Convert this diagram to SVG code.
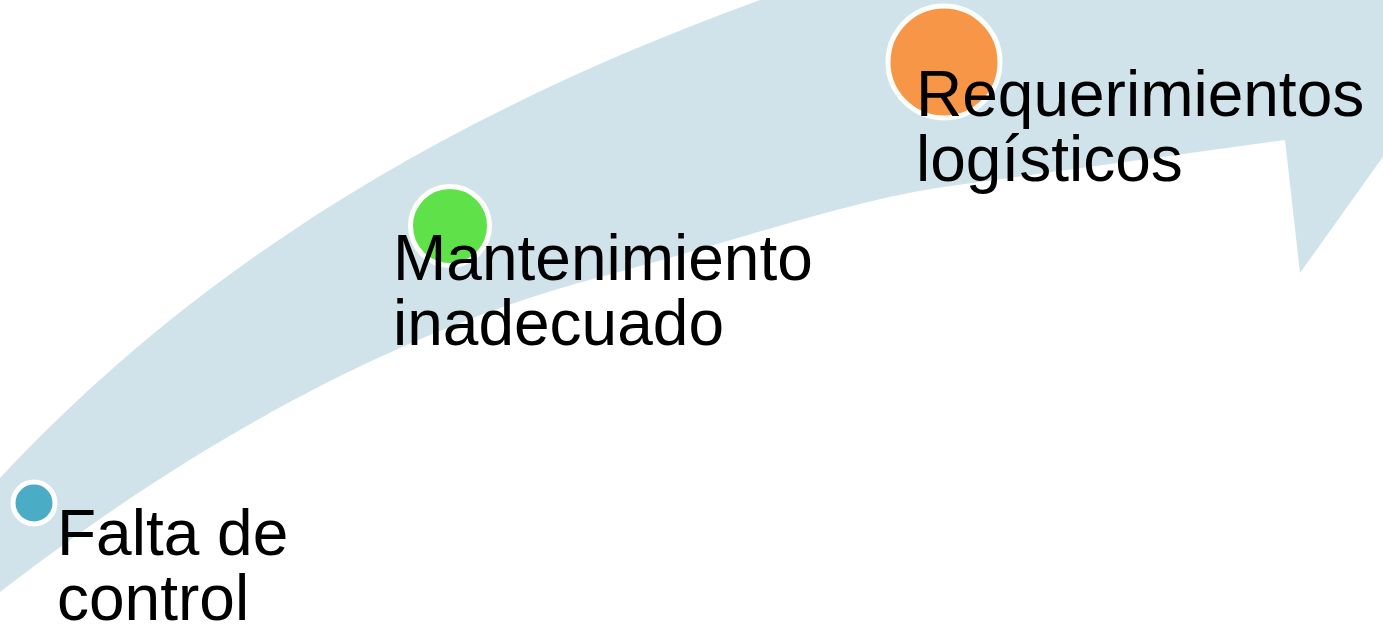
<svg xmlns="http://www.w3.org/2000/svg" width="1383" height="626" viewBox="0 0 1383 626">
  <style>
    .lbl { font-family: "Liberation Sans", Arial, sans-serif; font-size: 64px; fill: #000000; }
    .dot { stroke: #FFFFFF; stroke-width: 5; }
  </style>
  <rect x="0" y="0" width="1383" height="626" fill="#FFFFFF"/>
  <g id="connectors">
    <path id="band" fill="#D0E3EB" d="M 0,478 C 190,275 430,120 760,0 L 760,-20 L 1470,-20 L 1470,35 L 1300,273 L 1285,140 L 950,186 C 850,200 750,237 600,277 C 430,322 230,415 0,592 Z"/>
  </g>
  <g id="node-falta">
    <circle class="dot" cx="34" cy="503" r="21" fill="#4BACC6"/>
    <text class="lbl" x="57" y="555">Falta de</text>
    <text class="lbl" x="57" y="620">control</text>
  </g>
  <g id="node-mantenimiento">
    <circle class="dot" cx="450" cy="226" r="39.5" fill="#5FE14A"/>
    <text class="lbl" x="393" y="280">Mantenimiento</text>
    <text class="lbl" x="393" y="345">inadecuado</text>
  </g>
  <g id="node-requerimientos">
    <circle class="dot" cx="944" cy="62" r="56" fill="#F79646"/>
    <text class="lbl" x="916" y="116">Requerimientos</text>
    <text class="lbl" x="916" y="181">logísticos</text>
  </g>
</svg>
